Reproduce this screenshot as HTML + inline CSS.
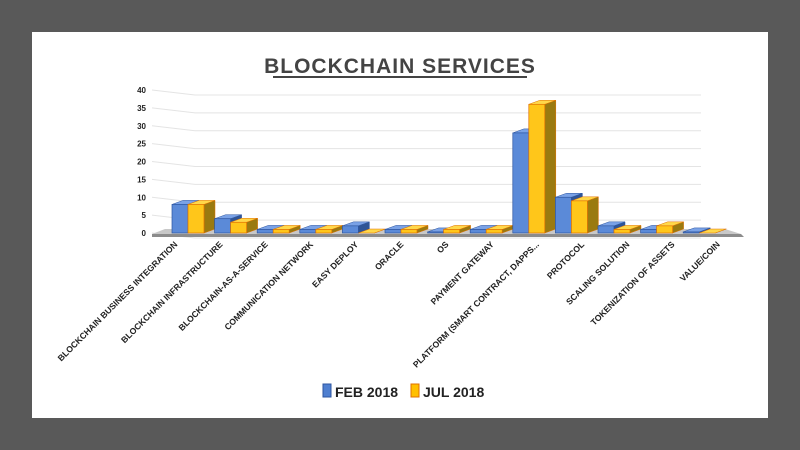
<!DOCTYPE html>
<html><head><meta charset="utf-8"><style>
body{margin:0;background:#595959;width:800px;height:450px;overflow:hidden;font-family:"Liberation Sans",sans-serif}
#card{position:absolute;left:32px;top:32px;width:736px;height:386px;background:#fff}
</style></head><body>
<div id="card"></div>
<svg id="chart" width="800" height="450" style="position:absolute;left:0;top:0">
<text x="400" y="73" text-anchor="middle" font-size="21" font-weight="bold" fill="#444" letter-spacing="1">BLOCKCHAIN SERVICES</text>
<line x1="273" y1="77" x2="527" y2="77" stroke="#444" stroke-width="2"/>
<g id="grid"></g><g id="bars"></g><g id="labels"></g>
<g>
<rect x="323" y="384" width="8" height="13" fill="#4f7fd0" stroke="#2d55a0"/>
<text x="335" y="397" font-size="14" font-weight="bold" fill="#222">FEB 2018</text>
<rect x="411" y="384" width="8" height="13" fill="#ffc000" stroke="#e07000"/>
<text x="423" y="397" font-size="14" font-weight="bold" fill="#222">JUL 2018</text>
</g>
</svg>
<script>
const categories=["BLOCKCHAIN BUSINESS INTEGRATION","BLOCKCHAIN INFRASTRUCTURE","BLOCKCHAIN-AS-A-SERVICE","COMMUNICATION NETWORK","EASY DEPLOY","ORACLE","OS","PAYMENT GATEWAY","PLATFORM (SMART CONTRACT, DAPPS...","PROTOCOL","SCALING SOLUTION","TOKENIZATION OF ASSETS","VALUE/COIN"];
const feb=[8,4,1,1,2,1,0.3,1,28,10,2,1,0.3];
const jul=[8,3,1,1,0,1,1,1,36,9,1,2,0];
const ticks=[0,5,10,15,20,25,30,35,40];
const NS="http://www.w3.org/2000/svg";
const y0=233,yTop=90,maxV=40;
const y=v=>y0-(v/maxV)*(y0-yTop);
const xg=i=>172+i*42.6;
const xl=i=>178+i*45.2;
const bw=16,dx=11,dy=-4;
function mk(t,a,p){const e=document.createElementNS(NS,t);for(const k in a)e.setAttribute(k,a[k]);p.appendChild(e);return e;}
const grid=document.getElementById('grid');
ticks.forEach(t=>{
 const gy=y(t);
 const l=mk('polyline',{points:`152,${gy} 195,${gy+5} 701,${gy+5}`,fill:'none',stroke:'#e4e4e4','stroke-width':1},grid);
 
 
 const tx=mk('text',{x:146,y:gy+3,'text-anchor':'end','font-size':8,'font-weight':'bold',fill:'#222'},grid);
 tx.textContent=t;
 
 
});
const fl2=mk('polygon',{points:`165,${y0-4} 725,${y0-4} 741,${y0+1} 152,${y0+1}`,fill:'#c8c8c8'},grid);


const floor=mk('polygon',{points:`152,${y0+1} 741,${y0+1} 744,${y0+4} 152,${y0+4}`,fill:'#8c8c8c'},grid);


const bars=document.getElementById('bars');
function bar(x,v,front,side,top,stroke,name){
 const g=mk('g',{},bars);
 
 
 const yt=y(v);
 mk('polygon',{points:`${x+bw},${yt} ${x+bw+dx},${yt+dy} ${x+bw+dx},${y0+dy} ${x+bw},${y0}`,fill:side,stroke:stroke,'stroke-width':0.5},g);
 mk('polygon',{points:`${x},${yt} ${x+dx},${yt+dy} ${x+bw+dx},${yt+dy} ${x+bw},${yt}`,fill:top,stroke:stroke,'stroke-width':0.5},g);
 mk('rect',{x:x,y:yt,width:bw,height:y0-yt,fill:front,stroke:stroke,'stroke-width':0.7},g);
}
categories.forEach((c,i)=>{
 const x=xg(i);
 bar(x,feb[i],'#5b8ad8','#2f5596','#7aa2e6','#2d55a0','bar-feb');
 bar(x+bw,jul[i],'#ffc61a','#9a7a10','#ffd84a','#e07000','bar-jul');
 const t=mk('text',{'text-anchor':'end','font-size':8.6,'font-weight':'bold',fill:'#222',transform:`translate(${xl(i)},${y0+12}) rotate(-45)`},document.getElementById('labels'));
 t.textContent=c;
 
 
});
</script>
</body></html>
